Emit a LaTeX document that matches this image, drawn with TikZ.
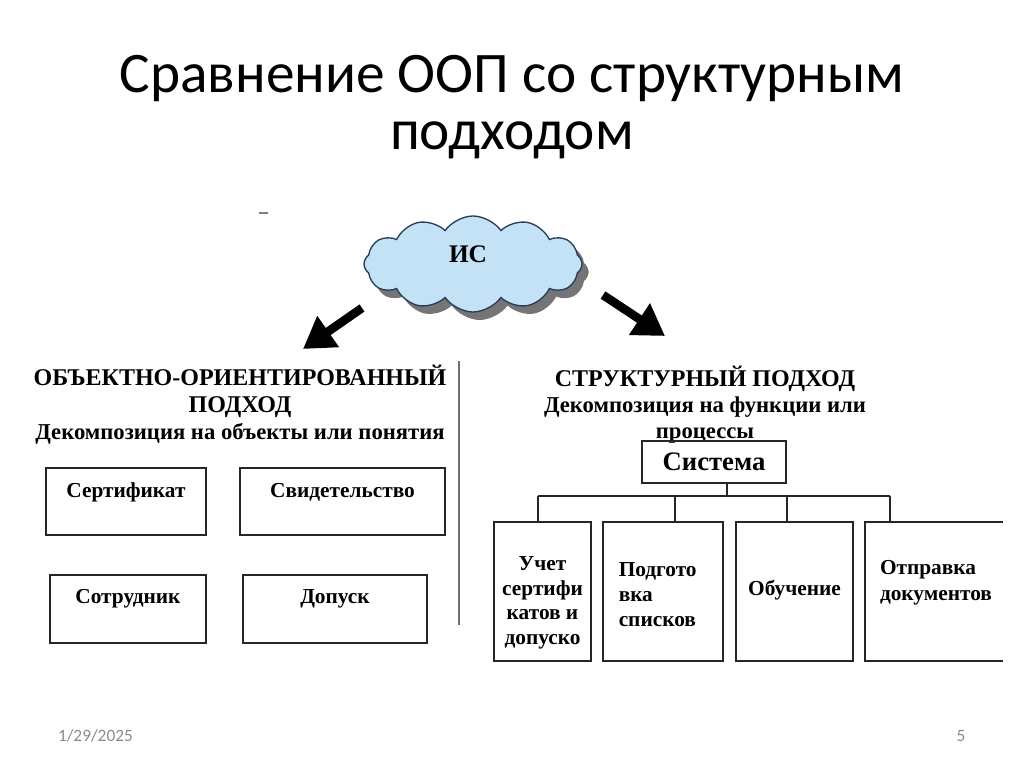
\documentclass[tikz,border=0pt]{standalone}
\usepackage{fontspec}
\setmainfont{Liberation Serif}
\newfontfamily\titlefont{Carlito}
\usetikzlibrary{shapes.symbols,arrows.meta,shadows,calc}
\definecolor{cloudfill}{HTML}{C3E2F6}
\definecolor{cloudline}{HTML}{243E5C}
\definecolor{footgray}{HTML}{8A8A8A}
\definecolor{sepgray}{HTML}{707070}
\begin{document}
\begin{tikzpicture}[x=0.75pt,y=-0.75pt,
  every node/.style={inner sep=0pt,outer sep=0pt},
  box/.style={draw=black!85,line width=1.5pt,anchor=north west},
  btxt/.style={font=\bfseries\fontsize{16}{18.7}\selectfont},
  htxt/.style={font=\bfseries\fontsize{18}{20.3}\selectfont,align=center},
  bigarrow/.style={line width=6.5pt,-{Triangle[length=23pt,width=27pt]}},
  link/.style={line width=1.5pt,draw=black!85}]
\useasboundingbox (0,0) rectangle (1024,767);

% title
\node[font=\titlefont\fontsize{43}{50}\selectfont,anchor=base] (t1) at (512,93) {Сравнение ООП со структурным};
\node[font=\titlefont\fontsize{43}{50}\selectfont,anchor=base] (t2) at (512,149) {подходом};

% small dash
\draw[gray,line width=1.2pt] (259,213) -- (268,213);

% cloud
\node[cloud, cloud puffs=12, cloud puff arc=110, aspect=2.3,
      draw=cloudline, line width=1pt, fill=cloudfill,
      minimum width=218*0.75pt, minimum height=96*0.75pt,
      drop shadow={shadow xshift=5pt,shadow yshift=-6pt,fill=black!60,opacity=0.9}] (is) at (473,264) {};
\node[font=\bfseries\fontsize{19}{22}\selectfont] (istxt) at (468,254) {ИС};

% arrows
\coordinate (la1) at (362,308);
\coordinate (la2) at (303,349);
\coordinate (ra1) at (603,295);
\coordinate (ra2) at (665,336);
\draw[bigarrow] (la1) -- (la2);
\draw[bigarrow] (ra1) -- (ra2);

% headings
\node[htxt] (lh) at (240,405) {ОБЪЕКТНО-ОРИЕНТИРОВАННЫЙ\\ПОДХОД\\{\fontsize{17}{20.3}\selectfont Декомпозиция на объекты или понятия}};
\node[htxt,font=\bfseries\fontsize{18}{19.5}\selectfont] (rh) at (705,405) {СТРУКТУРНЫЙ ПОДХОД\\{\fontsize{17}{19.5}\selectfont Декомпозиция на функции или}\\{\fontsize{17}{19.5}\selectfont процессы}};

% separator
\draw[sepgray,line width=1.5pt] (459,361) -- (459,625);

% left boxes
\node[box,minimum width=160*0.75pt,minimum height=67*0.75pt,
  label={[btxt,yshift=7pt]center:Сертификат}] (sert) at (46,468) {};
\node[box,minimum width=205*0.75pt,minimum height=67*0.75pt,
  label={[btxt,yshift=7pt]center:Свидетельство}] (svid) at (240,468) {};
\node[box,minimum width=156*0.75pt,minimum height=68*0.75pt,
  label={[btxt,yshift=8pt]center:Сотрудник}] (sotr) at (50,575) {};
\node[box,minimum width=184*0.75pt,minimum height=68*0.75pt,
  label={[btxt,yshift=8pt]center:Допуск}] (dop) at (243,575) {};

% system
\node[box,minimum width=144*0.75pt,minimum height=42*0.75pt,
  font=\bfseries\fontsize{20}{22}\selectfont] (sys) at (642,441) {Система};

% right boxes
\node[box,minimum width=97*0.75pt,minimum height=139*0.75pt,
  label={[btxt,align=center,yshift=-8.5pt]center:Учет\\сертифи\\катов и\\допуско}] (b1) at (494,522) {};
\node[box,minimum width=120*0.75pt,minimum height=139*0.75pt,
  label={[btxt,align=left,xshift=-4pt,yshift=-2.5pt]center:Подгото\\вка\\списков}] (b2) at (603,522) {};
\node[box,minimum width=117*0.75pt,minimum height=139*0.75pt,
  label={[btxt,yshift=1pt]center:Обучение}] (b3) at (736,522) {};
\node[anchor=north west,minimum width=138*0.75pt,minimum height=139*0.75pt] (b4) at (865,522) {};
\draw[link] (b4.north east) -- (b4.north west) -- (b4.south west) -- (b4.south east);
\node[btxt,font=\bfseries\fontsize{16}{20}\selectfont,align=left,anchor=north west] (b4t) at (880,560) {Отправка\\документов};

% hierarchy connectors
\coordinate (bus) at (727,496);
\coordinate (d1) at (538,496);
\coordinate (d2) at (675,496);
\coordinate (d3) at (787,496);
\coordinate (d4) at (890,496);
\draw[link] (sys.south -| bus) -- (bus);
\draw[link] (d1) -- (d4);
\draw[link] (d1) -- (d1 |- b1.north);
\draw[link] (d2) -- (d2 |- b2.north);
\draw[link] (d3) -- (d3 |- b3.north);
\draw[link] (d4) -- (d4 |- b4.north);

% footer
\node[font=\titlefont\fontsize{13}{15}\selectfont,text=footgray,anchor=base west] (date) at (58,741) {1/29/2025};
\node[font=\titlefont\fontsize{13}{15}\selectfont,text=footgray,anchor=base] (pg) at (961,741) {5};
\end{tikzpicture}
\end{document}
